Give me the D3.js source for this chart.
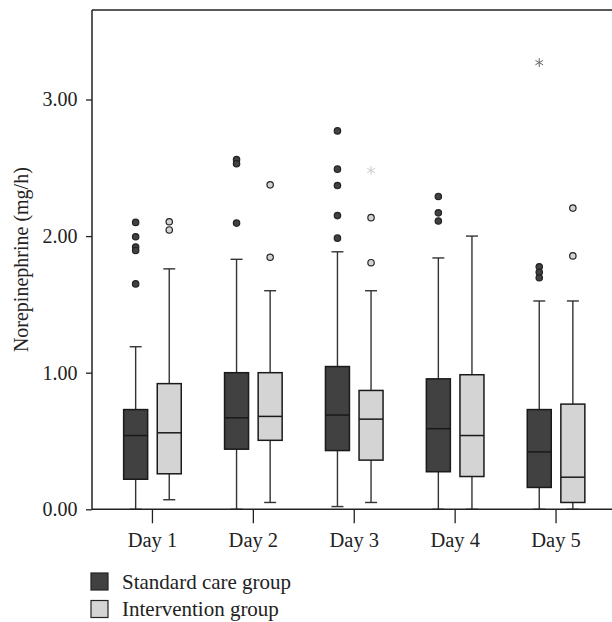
<!DOCTYPE html>
<html>
<head>
<meta charset="utf-8">
<script src="https://cdn.jsdelivr.net/npm/d3@7"></script>
<style>
  body { margin: 0; background: #fff; }
  svg text { font-family: "Liberation Serif", "DejaVu Serif", serif; fill: #222; }
</style>
</head>
<body>
<svg width="612" height="622"></svg>
<script>
var days = ["Day 1", "Day 2", "Day 3", "Day 4", "Day 5"];
var groups = ["Standard care group", "Intervention group"];
var yTicks = [0, 1, 2, 3];

/* box stats, one value per day */
var stdLow = [0, 0, 0.02, 0, 0];
var stdQ1 = [0.22, 0.44, 0.43, 0.275, 0.16];
var stdMedian = [0.54, 0.67, 0.69, 0.59, 0.42];
var stdQ3 = [0.73, 1.0, 1.045, 0.955, 0.73];
var stdHigh = [1.19, 1.83, 1.885, 1.84, 1.525];

var intLow = [0.07, 0.05, 0.05, 0, 0];
var intQ1 = [0.26, 0.505, 0.36, 0.24, 0.05];
var intMedian = [0.56, 0.68, 0.66, 0.54, 0.235];
var intQ3 = [0.92, 1.0, 0.87, 0.985, 0.77];
var intHigh = [1.76, 1.6, 1.6, 2.0, 1.525];

/* outliers (circles) and extremes (asterisks) */
var stdOutliers = [
  [2.1, 1.995, 1.92, 1.895, 1.65],
  [2.56, 2.53, 2.095],
  [2.77, 2.49, 2.37, 2.15, 1.985],
  [2.29, 2.17, 2.11],
  [1.775, 1.735, 1.695]
];
var intOutliers = [
  [2.105, 2.045],
  [2.375, 1.845],
  [2.135, 1.805],
  [],
  [2.205, 1.855]
];
var stdExtremes = [[], [], [], [], [3.27]];
var intExtremes = [[], [], [2.48], [], []];

var width = 612;
var height = 622;
var plotLeft = 92;
var plotTop = 10;
var plotBottom = 509.3;

var fills = ["#414141", "#d4d4d4"];
var starColors = ["#666666", "#cccccc"];

var svg = d3.select("svg");

var xScale = d3.scaleBand().domain(days).range([102, 606.5]);
var groupScale = d3.scalePoint().domain(groups).range([-16.8, 16.8]);
var yScale = d3.scaleLinear().domain([0, 3.655]).range([plotBottom, plotTop]);

var boxes = [];
days.forEach((d, i) => {
  boxes.push({ day: d, group: groups[0], low: stdLow[i], q1: stdQ1[i], med: stdMedian[i], q3: stdQ3[i], high: stdHigh[i], out: stdOutliers[i], ext: stdExtremes[i], k: 0 });
  boxes.push({ day: d, group: groups[1], low: intLow[i], q1: intQ1[i], med: intMedian[i], q3: intQ3[i], high: intHigh[i], out: intOutliers[i], ext: intExtremes[i], k: 1 });
});

var cx = (b) => xScale(b.day) + xScale.bandwidth() / 2 + groupScale(b.group);
var boxW = 24;
var capW = 12;

var g = svg.append("g");

/* whiskers */
g.selectAll("line.whisker")
  .data(boxes)
  .enter()
  .append("line")
  .attr("class", "whisker")
  .attr("x1", cx)
  .attr("x2", cx)
  .attr("y1", (b) => yScale(b.low))
  .attr("y2", (b) => yScale(b.high))
  .attr("stroke", "#333")
  .attr("stroke-width", 1.4);

["low", "high"].forEach((key) => {
  g.selectAll("line.cap-" + key)
    .data(boxes)
    .enter()
    .append("line")
    .attr("x1", (b) => cx(b) - capW / 2)
    .attr("x2", (b) => cx(b) + capW / 2)
    .attr("y1", (b) => yScale(b[key]))
    .attr("y2", (b) => yScale(b[key]))
    .attr("stroke", "#333")
    .attr("stroke-width", 1.4);
});

/* boxes */
g.selectAll("rect.box")
  .data(boxes)
  .enter()
  .append("rect")
  .attr("class", "box")
  .attr("x", (b) => cx(b) - boxW / 2)
  .attr("width", boxW)
  .attr("y", (b) => yScale(b.q3))
  .attr("height", (b) => yScale(b.q1) - yScale(b.q3))
  .attr("fill", (b) => fills[b.k])
  .attr("stroke", "#1a1a1a")
  .attr("stroke-width", 1.5);

g.selectAll("line.median")
  .data(boxes)
  .enter()
  .append("line")
  .attr("x1", (b) => cx(b) - boxW / 2)
  .attr("x2", (b) => cx(b) + boxW / 2)
  .attr("y1", (b) => yScale(b.med))
  .attr("y2", (b) => yScale(b.med))
  .attr("stroke", "#1a1a1a")
  .attr("stroke-width", 1.5);

/* outlier circles */
var outs = [];
var exts = [];
boxes.forEach((b) => {
  b.out.forEach((v) => outs.push({ b: b, v: v }));
  b.ext.forEach((v) => exts.push({ b: b, v: v }));
});

g.selectAll("circle.out")
  .data(outs)
  .enter()
  .append("circle")
  .attr("class", "out")
  .attr("cx", (o) => cx(o.b))
  .attr("cy", (o) => yScale(o.v))
  .attr("r", 3.2)
  .attr("fill", (o) => fills[o.b.k])
  .attr("stroke", "#222")
  .attr("stroke-width", 1.2);

g.selectAll("path.ext")
  .data(exts)
  .enter()
  .append("path")
  .attr("class", "ext")
  .attr("d", d3.symbol(d3.symbolAsterisk, 55))
  .attr("transform", (o) => "translate(" + cx(o.b) + "," + yScale(o.v) + ")")
  .attr("fill", "none")
  .attr("stroke", (o) => starColors[o.b.k])
  .attr("stroke-width", 1);

/* frame lines */
svg.append("line")
  .attr("x1", plotLeft).attr("x2", width)
  .attr("y1", plotTop).attr("y2", plotTop)
  .attr("stroke", "#222").attr("stroke-width", 1.5);
svg.append("line")
  .attr("x1", plotLeft).attr("x2", width)
  .attr("y1", plotBottom).attr("y2", plotBottom)
  .attr("stroke", "#222").attr("stroke-width", 1.5);
svg.append("line")
  .attr("x1", plotLeft).attr("x2", plotLeft)
  .attr("y1", plotTop).attr("y2", plotBottom)
  .attr("stroke", "#222").attr("stroke-width", 1.5);

/* axes */
var yAxis = d3.axisLeft(yScale)
  .tickValues(yTicks)
  .tickFormat(d3.format(".2f"))
  .tickSize(6)
  .tickPadding(8.5);

var yG = svg.append("g")
  .attr("transform", "translate(" + plotLeft + ",0)")
  .call(yAxis);
yG.select(".domain").remove();
yG.selectAll(".tick line").attr("stroke", "#222").attr("stroke-width", 1.3);
yG.selectAll(".tick text")
  .style("font-family", "Liberation Serif, DejaVu Serif, serif")
  .style("font-size", "20px")
  .attr("fill", "#222");

var xAxis = d3.axisBottom(xScale).tickSize(14).tickSizeOuter(0);
var xG = svg.append("g")
  .attr("transform", "translate(0," + plotBottom + ")")
  .call(xAxis);
xG.select(".domain").remove();
xG.selectAll(".tick line").attr("stroke", "#222").attr("stroke-width", 1.3);
xG.selectAll(".tick text")
  .attr("y", 38)
  .attr("dy", 0)
  .style("font-family", "Liberation Serif, DejaVu Serif, serif")
  .style("font-size", "20.5px")
  .attr("fill", "#222");

/* y title */
svg.append("text")
  .attr("transform", "translate(28," + (plotTop + plotBottom) / 2 + ") rotate(-90)")
  .attr("text-anchor", "middle")
  .style("font-size", "20px")
  .text("Norepinephrine (mg/h)");

/* legend */
var legend = svg.selectAll("g.legend")
  .data(groups)
  .enter()
  .append("g")
  .attr("class", "legend")
  .attr("transform", (d, i) => "translate(91," + (573 + i * 27.5) + ")");

legend.append("rect")
  .attr("width", 17)
  .attr("height", 17)
  .attr("fill", (d, i) => fills[i])
  .attr("stroke", "#222")
  .attr("stroke-width", 1.2);

legend.append("text")
  .attr("x", 31)
  .attr("y", 15.5)
  .style("font-size", "21px")
  .text((d) => d);
</script>
</body>
</html>
